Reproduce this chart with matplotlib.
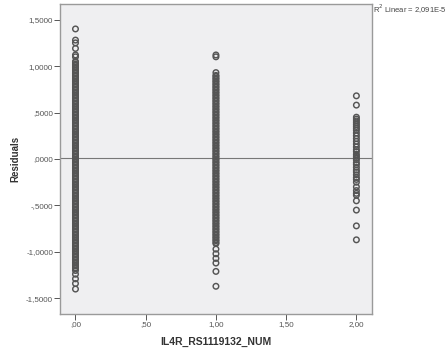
"""Residuals vs IL4R_RS1119132_NUM scatter (SPSS style)."""
import matplotlib
matplotlib.use("Agg")
import matplotlib.pyplot as plt

plt.rcParams.update({"font.family": ["Liberation Sans", "DejaVu Sans"]})

# genotype groups (x) and the residuals
group_x = [0.0, 1.0, 2.0]
res_0 = [1.40, 1.28, 1.25, 1.19, 1.12, 1.10,
         1.05, 1.04, 1.02, 1.01, 0.99, 0.98, 0.96, 0.95, 0.93, 0.92, 0.90, 0.89,
         0.87, 0.86, 0.84, 0.83, 0.81, 0.80, 0.78, 0.77, 0.75, 0.74, 0.72, 0.71,
         0.69, 0.68, 0.66, 0.65, 0.63, 0.62, 0.60, 0.59, 0.57, 0.56, 0.54, 0.53,
         0.51, 0.50, 0.48, 0.47, 0.45, 0.44, 0.42, 0.41, 0.39, 0.38, 0.36, 0.35,
         0.33, 0.32, 0.30, 0.29, 0.27, 0.26, 0.24, 0.23, 0.21, 0.20, 0.18, 0.17,
         0.15, 0.14, 0.12, 0.11, 0.09, 0.08, 0.06, 0.05, 0.03, 0.02, 0.00, -0.01,
         -0.03, -0.04, -0.06, -0.07, -0.09, -0.10, -0.12, -0.13, -0.15, -0.16,
         -0.18, -0.19, -0.21, -0.22, -0.24, -0.25, -0.27, -0.28, -0.30, -0.31,
         -0.33, -0.34, -0.36, -0.37, -0.39, -0.40, -0.42, -0.43, -0.45, -0.46,
         -0.48, -0.49, -0.51, -0.52, -0.54, -0.55, -0.57, -0.58, -0.60, -0.61,
         -0.63, -0.64, -0.66, -0.67, -0.69, -0.70, -0.72, -0.73, -0.75, -0.76,
         -0.78, -0.79, -0.81, -0.82, -0.84, -0.85, -0.87, -0.88, -0.90, -0.91,
         -0.93, -0.94, -0.96, -0.97, -0.99, -1.00, -1.02, -1.03, -1.05, -1.06,
         -1.08, -1.09, -1.11, -1.12, -1.14, -1.15, -1.17, -1.18, -1.20,
         -1.24, -1.29, -1.34, -1.40]
res_1 = [1.12, 1.10, 0.93,
         0.90, 0.89, 0.87, 0.86, 0.84, 0.83, 0.81, 0.80, 0.78, 0.77, 0.75, 0.74,
         0.72, 0.71, 0.69, 0.68, 0.66, 0.65, 0.63, 0.62, 0.60, 0.59, 0.57, 0.56,
         0.54, 0.53, 0.51, 0.50, 0.48, 0.47, 0.45, 0.44, 0.42, 0.41, 0.39, 0.38,
         0.36, 0.35, 0.33, 0.32, 0.30, 0.29, 0.27, 0.26, 0.24, 0.23, 0.21, 0.20,
         0.18, 0.17, 0.15, 0.14, 0.12, 0.11, 0.09, 0.08, 0.06, 0.05, 0.03, 0.02,
         0.00, -0.01, -0.03, -0.04, -0.06, -0.07, -0.09, -0.10, -0.12, -0.13,
         -0.15, -0.16, -0.18, -0.19, -0.21, -0.22, -0.24, -0.25, -0.27, -0.28,
         -0.30, -0.31, -0.33, -0.34, -0.36, -0.37, -0.39, -0.40, -0.42, -0.43,
         -0.45, -0.46, -0.48, -0.49, -0.51, -0.52, -0.54, -0.55, -0.57, -0.58,
         -0.60, -0.61, -0.63, -0.64, -0.66, -0.67, -0.69, -0.70, -0.72, -0.73,
         -0.75, -0.76, -0.78, -0.79, -0.81, -0.82, -0.84, -0.85, -0.87, -0.88,
         -0.90, -0.91,
         -0.97, -1.02, -1.07, -1.12, -1.21, -1.37]
res_2 = [0.68, 0.58, 0.45, 0.43, 0.41, 0.39, 0.37, 0.35, 0.33, 0.31, 0.28, 0.25,
         0.22, 0.19, 0.16, 0.13, 0.10, 0.08, 0.05, 0.03, 0.01, -0.01, -0.04, -0.06,
         -0.09, -0.12, -0.14, -0.17, -0.20, -0.22, -0.25, -0.30, -0.34, -0.37,
         -0.39, -0.45, -0.55, -0.72, -0.87]
fit_level = 0.015

y_ticks = [-1.5, -1.0, -0.5, 0.0, 0.5, 1.0, 1.5]
y_ticklabels = ["-1,5000", "-1,0000", "-,5000", ",0000", ",5000", "1,0000", "1,5000"]
x_ticks = [0.0, 0.5, 1.0, 1.5, 2.0]
x_ticklabels = [",00", ",50", "1,00", "1,50", "2,00"]

fig = plt.figure(figsize=(4.48, 3.51), dpi=100)
ax = fig.add_axes([0.134, 0.105, 0.696, 0.884])
ax.set_facecolor("#efeff1")

for x, vals in zip(group_x, [res_0, res_1, res_2]):
    ax.scatter([x] * len(vals), vals, s=16, facecolors="none",
               edgecolors="#555555", linewidths=1.05, zorder=3)

ax.axhline(fit_level, color="#777777", lw=0.8, zorder=2)

ax.set_xlim(-0.11, 2.11)
ax.set_ylim(-1.67, 1.67)
ax.set_yticks(y_ticks)
ax.set_yticklabels(y_ticklabels)
ax.set_xticks(x_ticks)
ax.set_xticklabels(x_ticklabels)
ax.tick_params(length=4, width=0.7, pad=1, labelsize=5.8, colors="#555555")

for side in ["left", "bottom", "top", "right"]:
    ax.spines[side].set_color("#9a9a9a")
    ax.spines[side].set_linewidth(1.0)

ax.set_xlabel("IL4R_RS1119132_NUM", fontsize=7.5, fontweight="bold",
              color="#333333", labelpad=6)
ax.set_ylabel("Residuals", fontsize=7.0, fontweight="bold", color="#333333",
              labelpad=4)

fig.text(0.833, 0.974, "R$^2$ Linear = 2,091E-5", fontsize=5.5, color="#444444",
         ha="left", va="center")

fig.savefig("out.png", dpi=100)
